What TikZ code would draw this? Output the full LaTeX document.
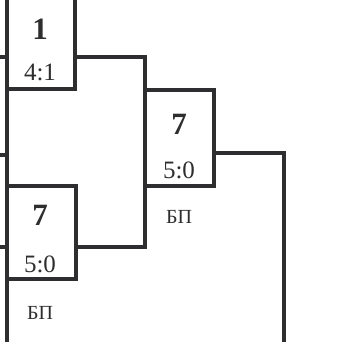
\documentclass[tikz,border=0pt]{standalone}
\usepackage{fontspec}
\setmainfont{Liberation Serif}
\begin{document}
\begin{tikzpicture}[x=1pt,y=1pt,
  line/.style={draw=ink,line width=3.6pt,line join=miter,line cap=rect},
  box/.style={rectangle,draw=ink,line width=3.6pt,inner sep=0pt,outer sep=0pt},
  big/.style={text=ink,font=\fontsize{31}{31}\selectfont\bfseries,inner sep=0pt},
  score/.style={text=ink,font=\fontsize{25}{25}\selectfont,inner sep=0pt},
  note/.style={text=ink,font=\fontsize{20}{20}\selectfont,inner sep=0pt}]
\definecolor{ink}{HTML}{2E2E30}
\useasboundingbox (0,0) rectangle (347,-342);
\begin{scope}
\clip (0,0) rectangle (347,-342);
% left rail
\coordinate (railtop) at (7,0);
\coordinate (railbot) at (7,-342);
\draw[line,line cap=butt] (railtop) -- (railbot);
% stubs
\coordinate (s1) at (0,-57);
\coordinate (s2) at (0,-155);
\coordinate (s3) at (0,-247);
\draw[line,line cap=butt] (s1) -- (s1 -| railtop);
\draw[line,line cap=butt] (s2) -- (s2 -| railtop);
\draw[line,line cap=butt] (s3) -- (s3 -| railtop);
% boxes
\node[box,minimum width=68pt,minimum height=95pt] (b1) at (41,-41.5) {};
\node[box,minimum width=69pt,minimum height=96pt] (b2) at (179.5,-138) {};
\node[box,minimum width=69pt,minimum height=93pt] (b3) at (41.5,-232.5) {};
% texts
\node[big] (t1) at (40,-29) {1};
\node[score] (t2) at (40,-72) {4:1};
\node[big] (t3) at (179,-124) {7};
\node[score] (t4) at (179,-170) {5:0};
\node[note] (t5) at (179,-217) {БП};
\node[big] (t6) at (40,-215) {7};
\node[score] (t7) at (40,-264) {5:0};
\node[note] (t8) at (40,-313) {БП};
% connectors
\coordinate (j1) at (145,-57);
\coordinate (j2) at (145,-247);
\draw[line] (b1.east |- j1) -- (j1) -- (j2) -- (b3.east |- j2);
\coordinate (j3) at (284,-153);
\coordinate (fin) at (284,-342);
\draw[line,line cap=butt] (b2.east |- j3) -- (j3) -- (fin);
\end{scope}
\end{tikzpicture}
\end{document}
